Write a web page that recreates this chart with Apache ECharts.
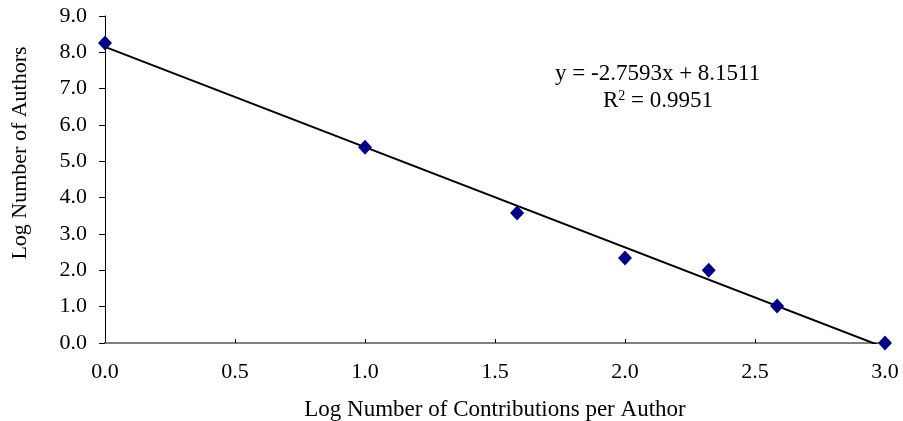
<!DOCTYPE html>
<html><head><meta charset="utf-8">
<script src="https://cdn.jsdelivr.net/npm/echarts@6/dist/echarts.min.js"></script>
<style>html,body{margin:0;padding:0;background:#fff}#c{width:903px;height:421px}</style>
</head><body><div id="c"></div>
<script>
var xValues = [0.0, 1.0, 1.585, 2.0, 2.322, 2.585, 3.0];
var yValues = [8.26, 5.39, 3.58, 2.34, 2.0, 1.02, 0.0];
var slope = -2.7593, intercept = 8.1511;
var trendX = [0.0, 3.0];
var eqText = 'y = -2.7593x + 8.1511';
var r2Text = 'R{sup|2} = 0.9951';
var xTitle = 'Log Number of Contributions per Author';
var yTitle = 'Log Number of Authors';

var font = '"Liberation Serif","Times New Roman",serif';
var chart = echarts.init(document.getElementById('c'));
chart.setOption({
  animation:false,
  grid:{left:105,right:18,top:16,bottom:78,containLabel:false,outerBoundsMode:'none'},
  xAxis:{type:'value',min:0,max:3,interval:0.5,
    name:xTitle,nameLocation:'middle',nameGap:55,
    nameTextStyle:{fontFamily:font,fontSize:23,color:'#000'},
    axisLine:{onZero:false,lineStyle:{color:'#808080',width:2}},
    axisTick:{show:true,inside:true,length:4,lineStyle:{color:'#000'}},
    axisLabel:{fontFamily:font,fontSize:22,color:'#000',margin:18,formatter:function(v){return v.toFixed(1);}},
    splitLine:{show:false}},
  yAxis:{type:'value',min:0,max:9,interval:1,
    axisLine:{show:true,lineStyle:{color:'#000',width:1}},
    axisTick:{show:true,length:6,lineStyle:{color:'#000'}},
    axisLabel:{fontFamily:font,fontSize:22,color:'#000',margin:18,formatter:function(v){return v.toFixed(1);}},
    splitLine:{show:false}},
  series:[
    {type:'line',data:trendX.map(function(x){return [x,slope*x+intercept];}),
     showSymbol:false,symbol:'none',clip:true,lineStyle:{color:'#000',width:2},z:2,silent:true},
    {type:'scatter',data:xValues.map(function(x,i){return [x,yValues[i]];}),
     symbol:'diamond',symbolSize:[14,15],itemStyle:{color:'#000080',opacity:1},z:3}
  ],
  graphic:[
    {type:'text',x:20,y:153,rotation:Math.PI/2,
     style:{text:yTitle,font:'22px '+font,fill:'#000',textAlign:'center',textVerticalAlign:'middle'}},
    {type:'text',left:555,top:62,style:{text:eqText,font:'23px '+font,fill:'#000'}},
    {type:'text',left:603,top:89,style:{text:r2Text,font:'23px '+font,fill:'#000',
      rich:{sup:{fontSize:14,fontFamily:font,verticalAlign:'top',padding:[0,0,8,0]}}}}
  ]
});
</script></body></html>
